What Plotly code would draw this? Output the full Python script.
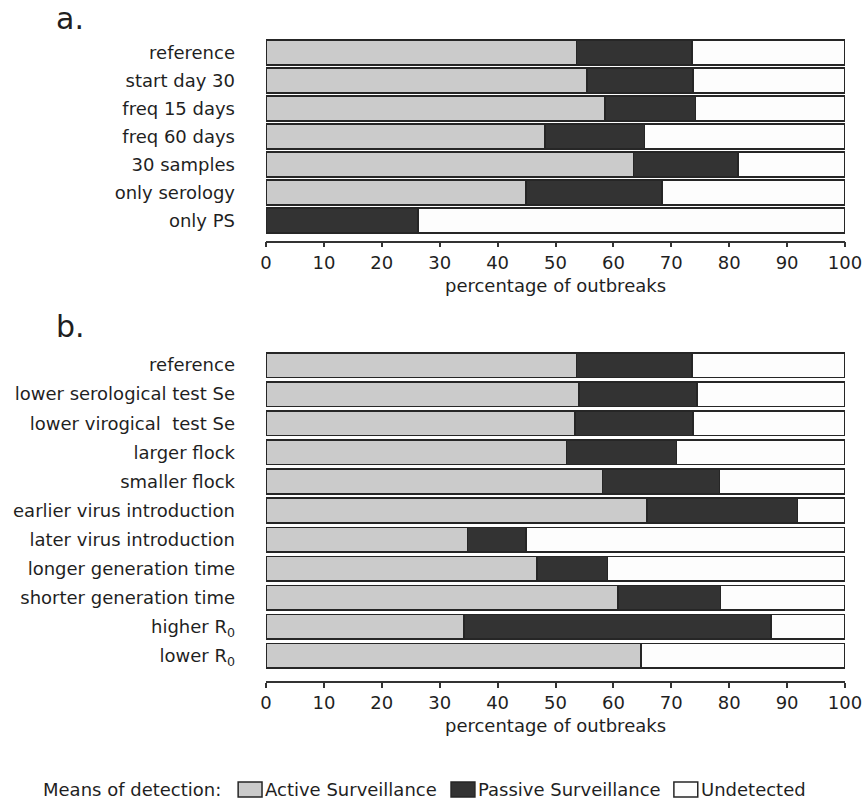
import plotly.graph_objects as go

# ---------------- data ----------------
cats_a = ["reference", "start day 30", "freq 15 days", "freq 60 days",
          "30 samples", "only serology", "only PS"]
active_a = [53.6, 55.4, 58.5, 48.2, 63.5, 44.9, 0.0]
passive_a = [20.0, 18.3, 15.7, 17.2, 18.0, 23.5, 26.2]
undet_a = [26.4, 26.3, 25.8, 34.6, 18.5, 31.6, 73.8]

cats_b = ["reference", "lower serological test Se", "lower virogical  test Se",
          "larger flock", "smaller flock", "earlier virus introduction",
          "later virus introduction", "longer generation time",
          "shorter generation time", "higher R<sub>0</sub>", "lower R<sub>0</sub>"]
active_b = [53.6, 54.1, 53.4, 51.9, 58.1, 65.8, 34.8, 46.8, 60.8, 34.2, 64.8]
passive_b = [20.0, 20.3, 20.3, 19.0, 20.2, 26.0, 10.1, 12.2, 17.7, 53.0, 0.0]
undet_b = [26.4, 25.6, 26.3, 29.1, 21.7, 8.2, 55.1, 41.0, 21.5, 12.8, 35.2]

x_ticks = [0, 10, 20, 30, 40, 50, 60, 70, 80, 90, 100]
series_names = ["Active Surveillance", "Passive Surveillance", "Undetected"]
series_colors = ["#cbcbcb", "#333333", "#fdfdfd"]

# ---------------- layout helpers ----------------
W, H = 862, 801
PLOT_L, PLOT_R = 266, 848          # plot area in window pixels
L = PLOT_L
R = W - PLOT_R
FONT = "DejaVu Sans"
TXT = "#1f1f1f"
EDGE = "#262626"


def px2x(px):
    """window pixel x -> paper x"""
    return (px - PLOT_L) / (PLOT_R - PLOT_L)


def px2y(py):
    """window pixel y -> paper y"""
    return 1 - py / H


fig = go.Figure()

panels = [
    (cats_a, [active_a, passive_a, undet_a], "x", "y", 0.893),
    (cats_b, [active_b, passive_b, undet_b], "x2", "y2", 0.845),
]
for cats, vals, xa, ya, w in panels:
    for name, col, v in zip(series_names, series_colors, vals):
        fig.add_trace(go.Bar(
            y=cats, x=v, orientation="h", name=name, xaxis=xa, yaxis=ya,
            width=w, showlegend=False,
            marker=dict(color=col, line=dict(color=EDGE, width=1.6)),
            hovertemplate="%{y}: %{x}%<extra>" + name + "</extra>",
        ))

common_x = dict(
    range=[0, 100], tickvals=x_ticks, ticks="outside", ticklen=5,
    tickwidth=1.5, tickcolor="#333333", showline=True, linecolor="#333333",
    linewidth=1.5, showgrid=False, zeroline=False, ticklabeloverflow="allow",
    tickfont=dict(family=FONT, size=18, color=TXT),
    title=dict(text="percentage of outbreaks", standoff=7,
               font=dict(family=FONT, size=18, color=TXT)),
)
common_y = dict(
    type="category", showline=False, showgrid=False, zeroline=False,
    ticks="", ticklabelstandoff=30,
    tickfont=dict(family=FONT, size=18, color=TXT),
)

fig.update_layout(
    width=W, height=H, barmode="stack",
    margin=dict(l=L, r=R, t=0, b=0, pad=0),
    paper_bgcolor="white", plot_bgcolor="white",
    font=dict(family=FONT, size=18, color=TXT),
    xaxis=dict(common_x, anchor="y", domain=[0, 1]),
    yaxis=dict(common_y, anchor="x", categoryorder="array", categoryarray=cats_a,
               range=[6.72, -0.5], domain=[px2y(240.7), px2y(38.5)]),
    xaxis2=dict(common_x, anchor="y2", domain=[0, 1]),
    yaxis2=dict(common_y, anchor="x2", categoryorder="array", categoryarray=cats_b,
                range=[10.86, -0.5], domain=[px2y(681), px2y(350.5)]),
)

# panel letters
for letter, base in [("a.", 30), ("b.", 338)]:
    fig.add_annotation(text=letter, xref="paper", yref="paper",
                       x=px2x(53), y=px2y(base + 8), xanchor="left", yanchor="bottom",
                       showarrow=False, font=dict(family=FONT, size=30, color=TXT))

# legend (drawn manually to match the reference layout)
leg_y = 789.5
fig.add_annotation(text="Means of detection:", xref="paper", yref="paper",
                   x=px2x(40), y=px2y(leg_y), xanchor="left", yanchor="middle",
                   showarrow=False, font=dict(family=FONT, size=18, color=TXT))
leg_sq = [238, 452, 676]
for name, col, sx in zip(series_names, series_colors, leg_sq):
    fig.add_shape(type="rect", xref="paper", yref="paper",
                  x0=px2x(sx), x1=px2x(sx + 24), y0=px2y(797), y1=px2y(782),
                  fillcolor=col, line=dict(color=EDGE, width=1.5))
    fig.add_annotation(text=name, xref="paper", yref="paper",
                       x=px2x(sx + 25), y=px2y(leg_y), xanchor="left", yanchor="middle",
                       showarrow=False, font=dict(family=FONT, size=18, color=TXT))

# remove the default page margin so the figure fills the window exactly
fig.write_html("out.html",
               config={"displayModeBar": False},
               post_script="document.body.style.margin='0';"
                           "document.body.style.overflow='hidden';")
